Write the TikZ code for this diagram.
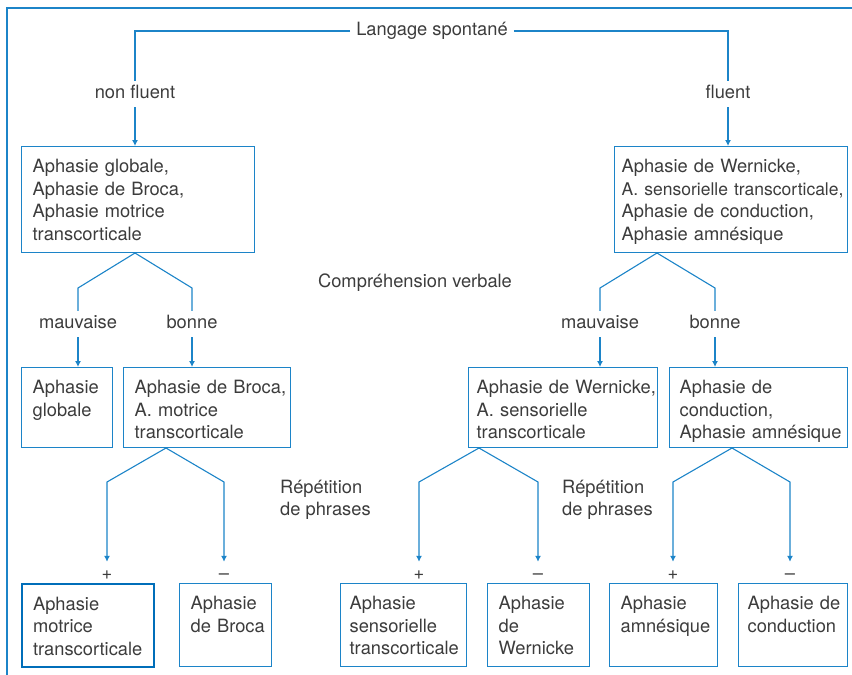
\documentclass[tikz,border=0pt]{standalone}
\usepackage{fontspec}
\setmainfont{TeX Gyre Heros}
\usetikzlibrary{arrows.meta,positioning,calc}
\definecolor{diagblue}{RGB}{28,132,200}
\definecolor{diagdark}{RGB}{0,110,185}
\definecolor{diagtext}{RGB}{60,60,60}
\hyphenpenalty=10000
\exhyphenpenalty=10000
\hbadness=10000
\hfuzz=50pt

\begin{document}
\begin{tikzpicture}[x=1pt, y=-1pt,
    every node/.style={font=\fontsize{18.3}{22.5}\selectfont, text=diagtext},
    box/.style={draw=diagblue, line width=1.3pt, anchor=north west, align=left, inner xsep=11pt, inner ysep=0pt, text height=26pt},
    lbl/.style={inner xsep=6pt, inner ysep=4.5pt, text height=13pt, text depth=4pt},
    note/.style={align=left, anchor=west, inner sep=0pt},
    link/.style={draw=diagblue, line width=1.1pt},
    arr/.style={link, -{Latex[length=6pt,width=6pt]}}]
      \useasboundingbox (0,0) rectangle (852,675);
      % frame
      \draw[diagblue, line width=1.2pt] (7,675) -- (7,8) -- (852,8);

      % spontaneous speech
      \node[lbl] (spont) at (432,31) {Langage spontané};
      \node[lbl] (nonfl) at (135,94) {non fluent};
      \node[lbl] (fl) at (728,94) {fluent};
      \node[box, text width=211pt, text depth=80pt] (bA) at (21,146) {Aphasie~globale,\\Aphasie~de~Broca,\\Aphasie~motrice\\transcorticale};
      \node[box, inner xsep=7pt, text width=219pt, text depth=80pt] (bB) at (614,146) {Aphasie~de~Wernicke,\\{\fontsize{17.5}{22.5}\selectfont A.~sensorielle~transcorticale,}\\Aphasie~de~conduction,\\Aphasie~amnésique};
      \draw[link] (spont.west) -| (nonfl.north);
      \draw[link] (spont.east) -| (fl.north);
      \draw[arr] (nonfl.south) -- (nonfl.south |- bA.north);
      \draw[arr] (fl.south) -- (fl.south |- bB.north);

      % verbal comprehension
      \node[lbl] (comp) at (415,283) {Compréhension verbale};
      \node[lbl] (mauvA) at (78,324) {mauvaise};
      \node[lbl] (bonA) at (192,324) {bonne};
      \node[lbl] (mauvB) at (600,324) {mauvaise};
      \node[lbl] (bonB) at (715,324) {bonne};
      \node[box, text width=69pt, text depth=54pt] (glob) at (21,367) {Aphasie\\globale};
      \node[box, text width=145pt, text depth=54pt] (brA) at (123,367) {Aphasie~de~Broca,\\A.~motrice\\transcorticale};
      \node[box, inner xsep=8pt, text width=173pt, text depth=54pt] (wern2) at (468,367) {Aphasie~de~Wernicke,\\A.~sensorielle\\transcorticale};
      \node[box, inner xsep=10pt, text width=158pt, text depth=54pt] (cond2) at (669,367) {Aphasie~de\\conduction,\\Aphasie~amnésique};
      \coordinate (sA) at (135,253);
      \coordinate (sB) at (657,253);
      \draw[link] (sA) -- ++(-57,35) -- (mauvA.north);
      \draw[link] (sA) -- ++(57,35) -- (bonA.north);
      \draw[link] (sB) -- ++(-57,35) -- (mauvB.north);
      \draw[link] (sB) -- ++(58,35) -- (bonB.north);
      \draw[arr] (mauvA.south) -- (mauvA.south |- glob.north);
      \draw[arr] (bonA.south) -- (bonA.south |- brA.north);
      \draw[arr] (mauvB.south) -- (mauvB.south |- wern2.north);
      \draw[arr] (bonB.south) -- (bonB.south |- cond2.north);

      % sentence repetition
      \node[note] (rep1) at (280,500) {Répétition\\de phrases};
      \node[note] (rep2) at (562,500) {Répétition\\de phrases};
      \node[lbl] (plusA) at (107,575) {+};
      \node[lbl] (minA) at (224,575) {–};
      \node[lbl] (plusB) at (419,575) {+};
      \node[lbl] (minB) at (538,575) {–};
      \node[lbl] (plusC) at (673,575) {+};
      \node[lbl] (minC) at (790,575) {–};
      \node[box, draw=diagdark, line width=2.2pt, text width=110pt, text depth=57pt] (mtc) at (21,583) {Aphasie\\motrice\\transcorticale};
      \node[box, text width=70pt, text depth=57pt] (broca3) at (179,583) {Aphasie\\de~Broca};
      \node[box, inner xsep=9pt, text width=108pt, text depth=57pt] (stc) at (340,583) {Aphasie\\sensorielle\\transcorticale};
      \node[box, text width=80pt, text depth=57pt] (wern3) at (487,583) {Aphasie\\de\\Wernicke};
      \node[box, text width=86pt, text depth=57pt] (amn) at (609,583) {Aphasie\\amnésique};
      \node[box, inner xsep=9pt, text width=91pt, text depth=57pt] (cond3) at (738,583) {Aphasie~de\\conduction};
      \coordinate (sC) at (166,448);
      \coordinate (sD) at (479,448);
      \coordinate (sE) at (732,448);
      \draw[arr] (sC) -- ++(-59,34) -- (plusA.north);
      \draw[arr] (sC) -- ++(58,34) -- (minA.north);
      \draw[arr] (sD) -- ++(-60,34) -- (plusB.north);
      \draw[arr] (sD) -- ++(59,34) -- (minB.north);
      \draw[arr] (sE) -- ++(-59,34) -- (plusC.north);
      \draw[arr] (sE) -- ++(58,34) -- (minC.north);
\end{tikzpicture}
\end{document}
